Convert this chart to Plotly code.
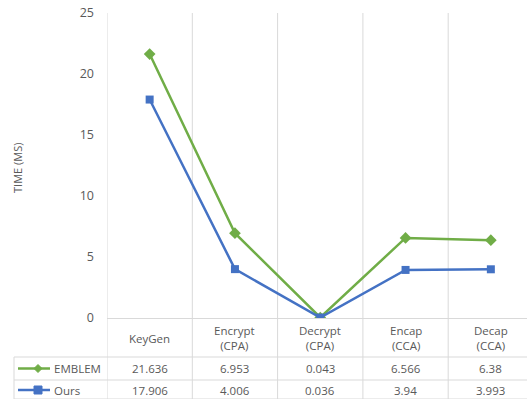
import plotly.graph_objects as go

categories = ["KeyGen", "Encrypt<br>(CPA)", "Decrypt<br>(CPA)", "Encap<br>(CCA)", "Decap<br>(CCA)"]
series_names = ["EMBLEM", "Ours"]
emblem = [21.636, 6.953, 0.043, 6.566, 6.38]
ours = [17.906, 4.006, 0.036, 3.94, 3.993]
emblem_labels = ["21.636", "6.953", "0.043", "6.566", "6.38"]
ours_labels = ["17.906", "4.006", "0.036", "3.94", "3.993"]
y_ticks = [0, 5, 10, 15, 20, 25]

W, H = 527, 399
GREEN = "#70AD47"
BLUE = "#4472C4"
GRID = "#D9D9D9"
TXT = "#595959"
FONT = "Open Sans"

# plot area in pixels
PL, PR, PT, PB = 107, 527, 13, 318
cat_w = 85.3
x_hi = -0.5 + (PR - PL) / cat_w

fig = go.Figure()
idx = list(range(len(categories)))
fig.add_trace(go.Scatter(x=idx, y=emblem, mode="lines+markers", name=series_names[0],
                         line=dict(color=GREEN, width=2.5),
                         marker=dict(symbol="diamond", size=9, color=GREEN)))
fig.add_trace(go.Scatter(x=idx, y=ours, mode="lines+markers", name=series_names[1],
                         line=dict(color=BLUE, width=2.5),
                         marker=dict(symbol="square", size=8, color=BLUE)))

shapes = []
annotations = []
# vertical category boundaries through chart and table
for i in range(len(categories) + 1):
    shapes.append(dict(type="line", xref="x", yref="y2", x0=i - 0.5, x1=i - 0.5,
                       y0=PT, y1=H, line=dict(color=GRID, width=1), layer="below"))
# table horizontal lines
shapes.append(dict(type="line", xref="x2", yref="y2", x0=PL, x1=W, y0=PB + 0.5, y1=PB + 0.5,
                   line=dict(color=GRID, width=1), layer="below"))
for yy in [357, 380, 399]:
    shapes.append(dict(type="line", xref="x2", yref="y2", x0=14, x1=W, y0=yy, y1=yy,
                       line=dict(color=GRID, width=1), layer="below"))
shapes.append(dict(type="line", xref="x2", yref="y2", x0=14, x1=14, y0=357, y1=H,
                   line=dict(color=GRID, width=1), layer="below"))

# legend keys in the table
rows = [(368.5, GREEN, "diamond", series_names[0], emblem_labels),
        (390, BLUE, "square", series_names[1], ours_labels)]
for ry, col, sym, name, labels in rows:
    shapes.append(dict(type="line", xref="x2", yref="y2", x0=18, x1=50, y0=ry, y1=ry,
                       line=dict(color=col, width=2.5)))
    if sym == "diamond":
        shapes.append(dict(type="path", xref="x2", yref="y2",
                           path=f"M 38 {ry-4} L 42 {ry} L 38 {ry+4} L 34 {ry} Z",
                           fillcolor=col, line=dict(color=col, width=1)))
    else:
        shapes.append(dict(type="rect", xref="x2", yref="y2", x0=34, x1=42, y0=ry - 4, y1=ry + 4,
                           fillcolor=col, line=dict(color=col, width=1)))
    annotations.append(dict(xref="x2", yref="y2", x=52, y=ry, text=name, showarrow=False,
                            xanchor="left", yanchor="middle", font=dict(size=11.5, color=TXT, family=FONT)))
    for i, lab in enumerate(labels):
        annotations.append(dict(xref="x", yref="y2", x=i, y=ry, text=lab, showarrow=False,
                                xanchor="center", yanchor="middle",
                                font=dict(size=11.5, color=TXT, family=FONT)))

for i, c in enumerate(categories):
    annotations.append(dict(xref="x", yref="y2", x=i, y=338, text=c, showarrow=False,
                            xanchor="center", yanchor="middle",
                            font=dict(size=11.5, color=TXT, family=FONT)))

annotations.append(dict(xref="x2", yref="y2", x=17, y=168, text="TIME (MS)", textangle=-90,
                        showarrow=False, xanchor="center", yanchor="middle",
                        font=dict(size=11, color=TXT, family=FONT)))

fig.update_layout(
    width=W, height=H,
    margin=dict(l=0, r=0, t=0, b=0, pad=0, autoexpand=False),
    paper_bgcolor="white", plot_bgcolor="rgba(0,0,0,0)",
    showlegend=False,
    xaxis=dict(domain=[PL / W, PR / W], range=[-0.5, x_hi], showgrid=False, zeroline=False,
               showticklabels=False, showline=False, fixedrange=True, anchor="y",
               automargin=False),
    yaxis=dict(domain=[(H - PB) / H, (H - PT) / H], range=[0, 25], tickvals=y_ticks,
               showgrid=False, zeroline=False, showline=False, ticks="",
               ticklabelstandoff=12, anchor="x", automargin=False,
               tickfont=dict(size=12.5, color=TXT, family=FONT)),
    xaxis2=dict(domain=[0, 1], range=[0, W], visible=False, anchor="y2", fixedrange=True,
                automargin=False),
    yaxis2=dict(domain=[0, 1], range=[H, 0], visible=False, anchor="x2", fixedrange=True,
                automargin=False),
    shapes=shapes,
    annotations=annotations,
)

fig.write_html("out.html")
